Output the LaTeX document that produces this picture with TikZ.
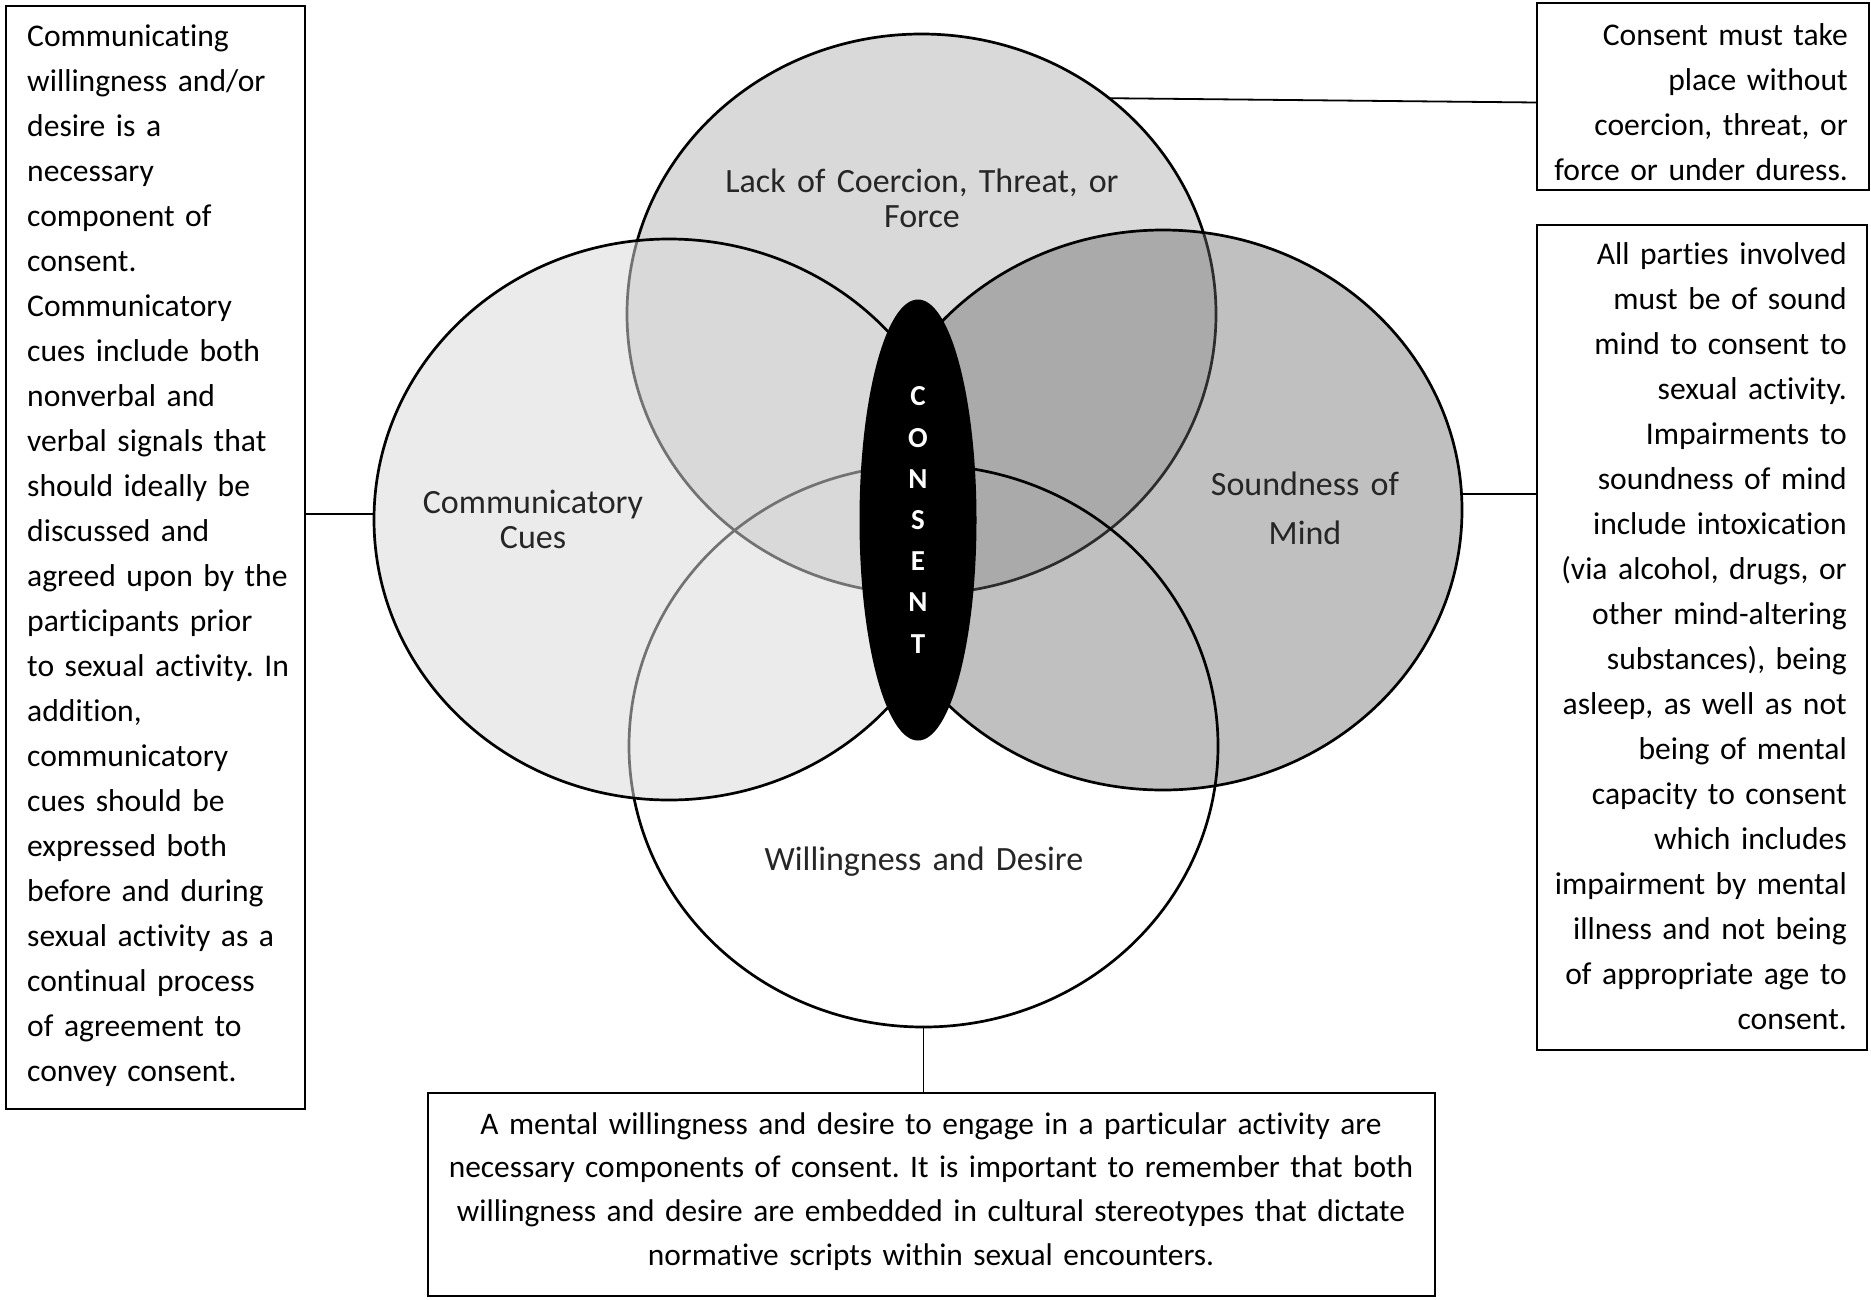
\documentclass[tikz,border=0pt]{standalone}
\usepackage{fontspec}
\setmainfont{Carlito}[Ligatures=NoCommon]
\usetikzlibrary{shapes.geometric}
\definecolor{topfill}{RGB}{217,217,217}
\definecolor{rightfill}{RGB}{105,105,105}
\frenchspacing
\begin{document}
\begin{tikzpicture}[x=1pt,y=-1pt,
  circ/.style={ellipse, draw=black, line width=2.7pt, inner sep=0pt, outer sep=0pt},
  box/.style={rectangle, draw=black, line width=1.8pt, inner sep=0pt, outer sep=0pt, anchor=north west},
  conn/.style={draw=black, line width=1.8pt},
  boxtext/.style={inner sep=0pt, font=\frenchspacing\fontsize{31.6}{45}\selectfont},
  lab/.style={inner sep=0pt, align=center, text width=500pt, text=black!85}
]
\useasboundingbox (0,0) rectangle (1871,1299);
\fill[white] (0,0) rectangle (1871,1299);

% circles
\node[circ, fill=topfill, minimum width=589pt, minimum height=560pt] (topc) at (921.5,314) {};
\node[circ, fill=rightfill, fill opacity=0.42, minimum width=598pt, minimum height=560pt] (rightc) at (1163,510) {};
\node[circ, minimum width=589pt, minimum height=562pt] (botc) at (923.5,746) {};
\node[circ, fill=topfill, fill opacity=0.526, minimum width=590pt, minimum height=561pt] (leftc) at (669,519.5) {};

% central ellipse
\node[ellipse, fill=black, inner sep=0pt, outer sep=0pt, minimum width=117pt, minimum height=441pt,
      text=white, align=center, font=\bfseries\fontsize{29}{41.2}\selectfont] (consent) at (918,520)
      {C\\O\\N\\S\\E\\N\\T};

% circle labels
\node[lab, anchor=base, font=\fontsize{34}{35}\selectfont] (toplab) at (922,192) {Lack of Coercion, Threat, or\\Force};
\node[lab, anchor=base, font=\fontsize{34}{35}\selectfont] (leftlab) at (533,513) {Communicatory\\Cues};
\node[lab, anchor=base, font=\fontsize{34}{49}\selectfont] (rightlab) at (1305,495) {Soundness of\\Mind};
\node[lab, anchor=base, font=\fontsize{34}{35}\selectfont] (botlab) at (924,870) {Willingness and Desire};

% boxes
\node[box, minimum width=299pt, minimum height=1103pt] (leftbox) at (6,6) {};
\node[box, minimum width=332pt, minimum height=187pt] (trbox) at (1537,3) {};
\node[box, minimum width=330pt, minimum height=825pt] (rbox) at (1537,225) {};
\node[box, minimum width=1007pt, minimum height=203pt] (bbox) at (428,1093) {};

% box texts
\node[boxtext, anchor=base west, text width=275pt, align=left] (lefttext) at (27,46)
{Communicating\\willingness and/or\\desire is a\\necessary\\component of\\consent.\\Communicatory\\cues include both\\nonverbal and\\verbal signals that\\should ideally be\\discussed and\\agreed upon by the\\participants prior\\to sexual activity. In\\addition,\\communicatory\\cues should be\\expressed both\\before and during\\sexual activity as a\\continual process\\of agreement to\\convey consent.};

\node[boxtext, anchor=base east, text width=300pt, align=right] (trtext) at (1848,45)
{Consent must take\\place without\\coercion, threat, or\\force or under duress.};

\node[boxtext, anchor=base east, text width=320pt, align=right] (rtext) at (1847,264)
{All parties involved\\must be of sound\\mind to consent to\\sexual activity.\\Impairments to\\soundness of mind\\include intoxication\\(via alcohol, drugs, or\\other mind-altering\\substances), being\\asleep, as well as not\\being of mental\\capacity to consent\\which includes\\impairment by mental\\illness and not being\\of appropriate age to\\consent.};

\node[boxtext, anchor=base, text width=1000pt, align=center, font=\frenchspacing\fontsize{31.4}{43.8}\selectfont] (btext) at (931,1134)
{A mental willingness and desire to engage in a particular activity are\\necessary components of consent. It is important to remember that both\\willingness and desire are embedded in cultural stereotypes that dictate\\normative scripts within sexual encounters.};

% connectors
\draw[conn] (topc.49) -- ([yshift=-6pt]trbox.west);
\draw[conn] (rightc.3) -- (rightc.3 -| rbox.west);
\draw[conn] (leftc.179) -- (leftc.179 -| leftbox.east);
\draw[conn] (botc.south) -- (botc.south |- bbox.north);
\end{tikzpicture}
\end{document}
